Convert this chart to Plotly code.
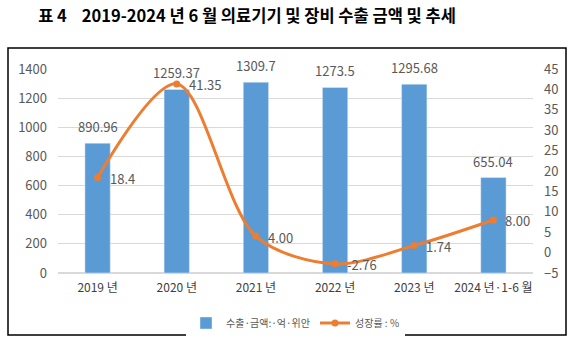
import plotly.graph_objects as go

categories = ["2019 년", "2020 년", "2021 년", "2022 년", "2023 년", "2024 년·1-6 월"]
export_values = [890.96, 1259.37, 1309.7, 1273.5, 1295.68, 655.04]
export_labels = ["890.96", "1259.37", "1309.7", "1273.5", "1295.68", "655.04"]
growth_values = [18.4, 41.35, 4.00, -2.76, 1.74, 8.00]
growth_labels = ["18.4", "41.35", "4.00", "-2.76", "1.74", "8.00"]

bar_color = "#5B9BD5"
line_color = "#ED7D31"
text_gray = "#595959"
font_kr = "Noto Sans CJK KR"

fig = go.Figure()
fig.add_trace(go.Bar(
    x=categories, y=export_values, name="수출·금액:·억·위안",
    marker_color=bar_color, width=0.32,
))
fig.add_trace(go.Scatter(
    x=categories, y=growth_values, name="성장률 : %", yaxis="y2",
    mode="lines+markers", line=dict(color=line_color, width=3, shape="spline", smoothing=0.9),
    marker=dict(size=7, color=line_color),
))

annotations = []
for c, v, s in zip(categories, export_values, export_labels):
    annotations.append(dict(x=c, y=v, xref="x", yref="y", text=s, showarrow=False,
                            xanchor="center", yanchor="bottom", yshift=5,
                            font=dict(size=13, color=text_gray, family=font_kr)))
for c, v, s in zip(categories, growth_values, growth_labels):
    annotations.append(dict(x=c, y=v, xref="x", yref="y2", text=s, showarrow=False,
                            xanchor="left", yanchor="middle", xshift=10, yshift=-1,
                            font=dict(size=13, color=text_gray, family=font_kr)))

W = 576
H = 342
l, r, t, b = 58, 43, 69, 69
pw = W - l - r
ph = H - t - b

def px_x(px):
    return (px - l) / pw

def px_y(py):
    return (H - b - py) / ph

fig.update_layout(
    width=W, height=H,
    margin=dict(l=l, r=r, t=t, b=b, autoexpand=False),
    paper_bgcolor="white", plot_bgcolor="white",
    font=dict(family=font_kr, color=text_gray, size=12),
    title=dict(
        text="<b>표 4\u00a0\u00a0\u00a0\u00a02019-2024 년 6 월 의료기기 및 장비 수출 금액 및 추세</b>",
        x=247 / W, xanchor="center", y=1 - 16 / H, yanchor="middle",
        font=dict(size=16.5, color="black", family=font_kr),
    ),
    bargap=0.68,
    showlegend=True,
    legend=dict(orientation="h", x=0.5, xanchor="center", xref="paper",
                yref="container", y=1 - 323 / H, yanchor="middle",
                font=dict(size=10, color=text_gray), traceorder="normal"),
    xaxis=dict(showline=False, ticks="", tickfont=dict(size=12, color="#404040"),
               showgrid=False, ticklabelstandoff=6),
    yaxis=dict(range=[0, 1400], dtick=200, showgrid=True, gridcolor="#D9D9D9", gridwidth=1,
               zeroline=True, zerolinecolor="#D9D9D9", showline=False, ticks="",
               tickfont=dict(size=13, color=text_gray), ticklabelstandoff=10),
    yaxis2=dict(range=[-5, 45], dtick=5, overlaying="y", side="right", showgrid=False,
                zeroline=False, showline=False, ticks="",
                tickfont=dict(size=13, color=text_gray), ticklabelstandoff=10),
    annotations=annotations,
    shapes=[dict(type="rect", xref="paper", yref="paper",
                 x0=px_x(8), x1=px_x(566), y0=px_y(335), y1=px_y(48),
                 line=dict(color="black", width=1.5), fillcolor="rgba(0,0,0,0)", layer="below")],
)

fig.write_html("out.html")
